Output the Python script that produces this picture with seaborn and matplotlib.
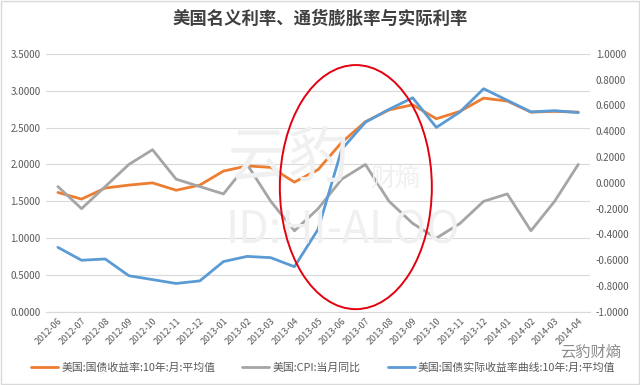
import matplotlib.pyplot as plt
import seaborn as sns
import pandas as pd
from matplotlib.patches import Ellipse

# 月份
months = ["2012-06", "2012-07", "2012-08", "2012-09", "2012-10", "2012-11", "2012-12",
          "2013-01", "2013-02", "2013-03", "2013-04", "2013-05", "2013-06", "2013-07",
          "2013-08", "2013-09", "2013-10", "2013-11", "2013-12", "2014-01", "2014-02",
          "2014-03", "2014-04"]
# 名义利率 (左轴)
nominal = [1.62, 1.53, 1.68, 1.72, 1.75, 1.65, 1.72, 1.91, 1.98, 1.96, 1.76, 1.93,
           2.30, 2.58, 2.74, 2.81, 2.62, 2.72, 2.90, 2.86, 2.71, 2.72, 2.71]
# CPI 同比 (左轴)
cpi = [1.7, 1.4, 1.7, 2.0, 2.2, 1.8, 1.7, 1.6, 2.0, 1.5, 1.1, 1.4,
       1.8, 2.0, 1.5, 1.2, 1.0, 1.2, 1.5, 1.6, 1.1, 1.5, 2.0]
# 实际利率 (右轴)
real = [-0.50, -0.60, -0.59, -0.72, -0.75, -0.78, -0.76, -0.61, -0.57, -0.58, -0.65, -0.36,
        0.26, 0.47, 0.57, 0.66, 0.43, 0.55, 0.73, 0.64, 0.55, 0.56, 0.545]

df = pd.DataFrame({"pos": range(len(months)), "month": months,
                   "nominal": nominal, "cpi": cpi, "real": real})

sns.set_style("white")
plt.rcParams["font.family"] = ["Noto Sans CJK SC", "DejaVu Sans"]

fig = plt.figure(figsize=(6.4, 3.85), dpi=100)
ax = fig.add_axes([0.072, 0.19, 0.85, 0.67])
ax2 = ax.twinx()

orange, gray, blue = "#ED7D31", "#A5A5A5", "#5B9BD5"
sns.lineplot(data=df, x="pos", y="nominal", ax=ax, color=orange, lw=2, legend=False)
sns.lineplot(data=df, x="pos", y="cpi", ax=ax, color=gray, lw=2, legend=False)
sns.lineplot(data=df, x="pos", y="real", ax=ax2, color=blue, lw=2, legend=False)

ax.set_ylim(0, 3.5)
ax.set_yticks([i * 0.5 for i in range(8)])
ax.set_yticklabels([f"{i * 0.5:.4f}" for i in range(8)])
ax2.set_ylim(-1, 1)
ax2.set_yticks([-1 + i * 0.2 for i in range(11)])
ax2.set_yticklabels([f"{-1 + i * 0.2:.4f}" for i in range(11)])
ax.set_xlim(-0.5, len(months) - 0.5)
ax.set_xticks(range(len(months)))
ax.set_xticklabels(months, rotation=45, ha="right", rotation_mode="anchor")

for a in (ax, ax2):
    a.set_xlabel("")
    a.set_ylabel("")
    for s in a.spines.values():
        s.set_visible(False)
    a.tick_params(axis="both", length=0, labelsize=7, colors="#595959", pad=4)
ax.tick_params(axis="x", labelsize=6.5, pad=3)
ax.grid(axis="y", color="#D9D9D9", lw=0.8)
ax.spines["bottom"].set_visible(True)
ax.spines["bottom"].set_color("#D9D9D9")
ax.set_axisbelow(True)

fig.suptitle("美国名义利率、通货膨胀率与实际利率", x=0.5, y=0.975, fontsize=12.5,
             fontweight="bold", color="#404040")

# 水印
fig.text(0.355, 0.585, "云豹", fontsize=44, color="#F0F0F0", ha="left", va="center", zorder=0)
fig.text(0.578, 0.535, "财熵", fontsize=18, color="#F0F0F0", ha="left", va="center", zorder=0)
fig.text(0.352, 0.40, "ID:HI-ALOO", fontsize=32, color="#F0F0F0", ha="left", va="center", zorder=0)
fig.text(0.97, 0.085, "云豹财熵", fontsize=11, color="#8C8C8C", ha="right", va="center")

# 红圈
fig.add_artist(Ellipse((0.556, 0.514), 0.2375, 0.634, transform=fig.transFigure,
                       fill=False, edgecolor="#E3000F", lw=1.4))

handles = ax.get_lines()[:2] + ax2.get_lines()[:1]
labels = ["美国:国债收益率:10年:月:平均值", "美国:CPI:当月同比", "美国:国债实际收益率曲线:10年:月:平均值"]
fig.legend(handles, labels, loc="center", bbox_to_anchor=(0.505, 0.045), ncol=3,
           frameon=False, fontsize=7.8, labelcolor="#595959", handlelength=2.5,
           columnspacing=2.5, handletextpad=0.3)

fig.patches.append(plt.Rectangle((0.002, 0.003), 0.996, 0.994, transform=fig.transFigure,
                                 fill=False, edgecolor="#D9D9D9", lw=1))

fig.savefig("out.png", dpi=100)
